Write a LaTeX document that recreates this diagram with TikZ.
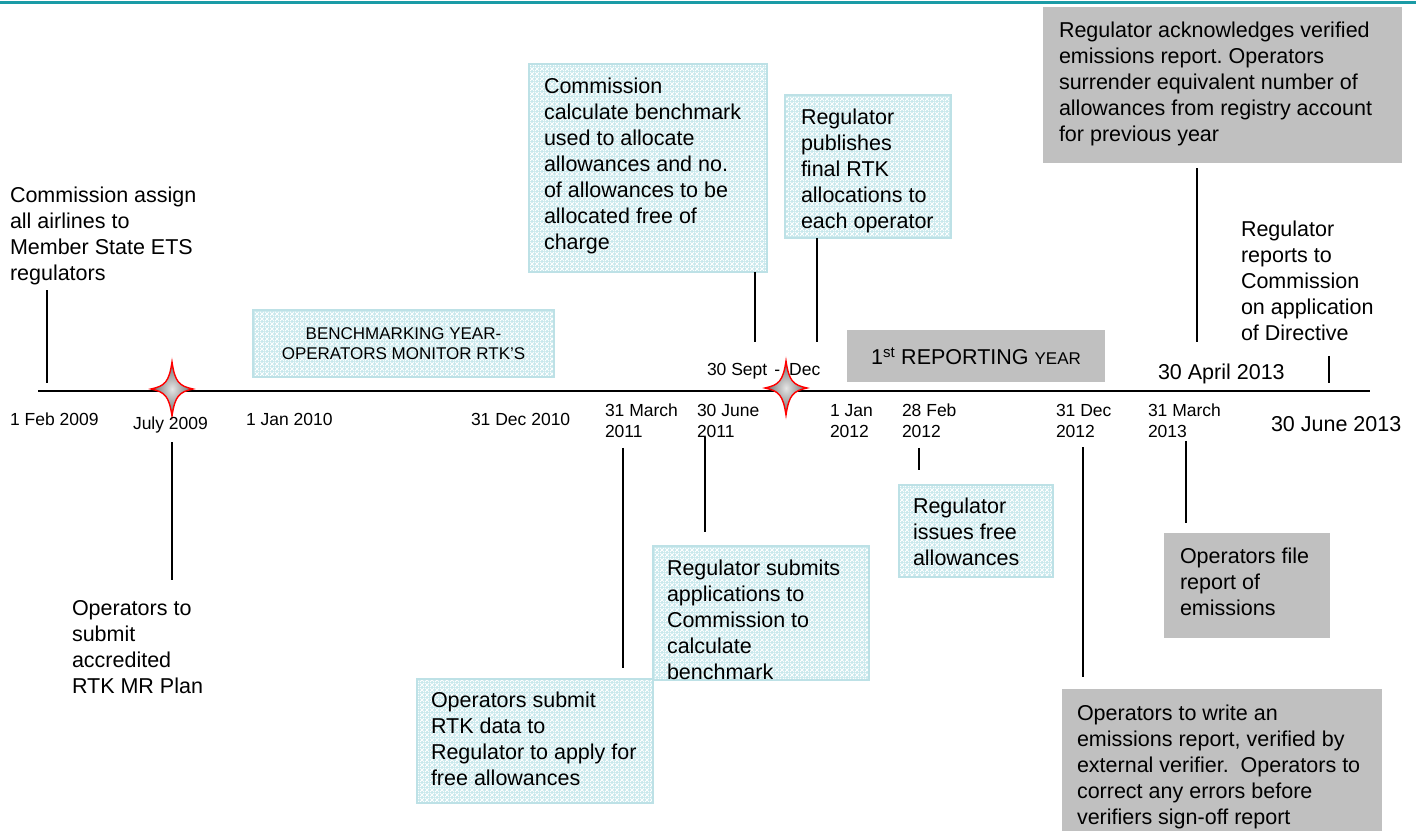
\documentclass[tikz,border=0pt]{standalone}
\usepackage{fontspec}
\setmainfont{Liberation Sans}
\usetikzlibrary{patterns.meta,calc}
\definecolor{tealtop}{HTML}{1A9BA6}
\definecolor{hfill}{HTML}{C8E8EC}
\definecolor{hbord}{HTML}{BDE1E6}
\definecolor{gboxc}{HTML}{C0C0C0}
\newcommand\fL{\fontsize{21.5}{26}\selectfont}
\newcommand\fS{\fontsize{17.5}{21}\selectfont}
\newcommand\fB{\fontsize{17}{20}\selectfont}
\frenchspacing
\tikzdeclarepattern{
  name=diamondgrid,
  type=uncolored,
  bounding box={(0pt,0pt) and (5pt,5pt)},
  tile size={(5pt,5pt)},
  code={
    \draw[line width=0.9pt] (0pt,0pt) -- (5pt,5pt) (0pt,5pt) -- (5pt,0pt);
  }
}
\tikzset{
  sparkle/.pic={
    \draw[red, line width=1.4pt, shading=radial, inner color=black!10, outer color=black!60]
      (0,-27) .. controls (3,-7) and (7,-3) .. (21,0)
      .. controls (7,3) and (3,7) .. (0,27)
      .. controls (-3,7) and (-7,3) .. (-21,0)
      .. controls (-7,-3) and (-3,-7) .. (0,-27) -- cycle;
  }
}
\begin{document}
\begin{tikzpicture}[x=1pt,y=-1pt,
  hbox/.style={fill=hfill, anchor=north west, inner sep=0pt, outer sep=0pt,
    postaction={pattern=diamondgrid, pattern color=white},
    postaction={draw=hbord, line width=1.5pt}},
  gbox/.style={fill=gboxc, anchor=north west, inner sep=0pt, outer sep=0pt},
  txt/.style={anchor=north west, inner sep=0pt, outer sep=0pt, align=left, font=\fL},
  dte/.style={anchor=north west, inner sep=0pt, outer sep=0pt, align=left, font=\fS},
  conn/.style={draw=black, line width=1.3pt},
]
\useasboundingbox (0,0) rectangle (1416,831);
\fill[white] (0,0) rectangle (1416,831);
\draw[tealtop, line width=3pt] (0,2) -- (1416,2);

% boxes
\node[hbox, minimum width=238pt, minimum height=208pt] (cbox) at (529,64) {};
\node[hbox, minimum width=166pt, minimum height=143pt] (pbox) at (785,95) {};
\node[hbox, minimum width=301pt, minimum height=67pt] (bbox) at (253,310) {};
\node[gbox, minimum width=258pt, minimum height=52pt] (rbox) at (847,330) {};
\node[gbox, minimum width=359pt, minimum height=156pt] (abox) at (1043,7) {};
\node[gbox, minimum width=166pt, minimum height=105pt] (obox) at (1164,533) {};
\node[gbox, minimum width=320pt, minimum height=142pt] (wbox) at (1062,689) {};
\node[hbox, minimum width=154pt, minimum height=92pt] (ibox) at (899,485) {};
\node[hbox, minimum width=216pt, minimum height=134pt] (sbox) at (653,546) {};
\node[hbox, minimum width=236pt, minimum height=124pt] (dbox) at (417,679) {};

% axis
\coordinate (axL) at (38,391);
\coordinate (axR) at (1370,391);
\draw[line width=2pt] (axL) -- (axR);
\pic at (172,389) {sparkle};
\pic at (786,388) {sparkle};

% texts
\node[txt] (cassign) at (10,187) {Commission assign\\all airlines to\\Member State ETS\\regulators};
\node[txt] (ctext) at (544,78) {Commission\\calculate benchmark\\used to allocate\\allowances and no.\\of allowances to be\\allocated free of\\charge};
\node[txt] (ptext) at (801,109) {Regulator\\publishes\\final RTK\\allocations to\\each operator};
\node[txt] (atext) at (1059,22) {Regulator acknowledges verified\\emissions report. Operators\\surrender equivalent number of\\allowances from registry account\\for previous year};
\node[txt] (regrep) at (1241,221) {Regulator\\reports to\\Commission\\on application\\of Directive};
\node[txt] (accr) at (72,600) {Operators to\\submit\\accredited\\RTK MR Plan};
\node[txt] (dtext) at (431,692) {Operators submit\\RTK data to\\Regulator to apply for\\free allowances};
\begin{scope}
\clip (sbox.north west) rectangle (sbox.south east);
\node[txt] (stext) at (667,560) {Regulator submits\\applications to\\Commission to\\calculate\\benchmark};
\end{scope}
\node[txt] (itext) at (913,498) {Regulator\\issues free\\allowances};
\node[txt] (otext) at (1180,548) {Operators file\\report of\\emissions};
\node[txt] (wtext) at (1077,705) {Operators to write an\\emissions report, verified by\\external verifier.\ \ Operators to\\correct any errors before\\verifiers sign-off report};
\node[font=\fB, align=center, inner sep=0pt] (btext) at (bbox.center) {BENCHMARKING YEAR-\\OPERATORS MONITOR RTK’S};
\node[font=\fL, inner sep=0pt] (rtext) at (rbox.center) {1\textsuperscript{st} REPORTING {\fontsize{17}{20}\selectfont YEAR}};

% dates
\node[txt] (apr13) at (1158,364) {30 April 2013};
\node[txt] (jun13) at (1271,416) {30 June 2013};
\node[dte] (sept) at (707,363) {30 Sept\hspace{7pt}-\hspace{9pt}Dec};
\node[dte] (feb09) at (10,413) {1 Feb 2009};
\node[dte] (july) at (133,417) {July 2009};
\node[dte] (jan10) at (246,413) {1 Jan 2010};
\node[dte] (dec10) at (471,413) {31 Dec 2010};
\node[dte] (mar11) at (605,404) {31 March\\2011};
\node[dte] (jun11) at (697,404) {30 June\\2011};
\node[dte] (jan12) at (830,404) {1 Jan\\2012};
\node[dte] (feb12) at (902,404) {28 Feb\\2012};
\node[dte] (dec12) at (1056,404) {31 Dec\\2012};
\node[dte] (mar13) at (1148,404) {31 March\\2013};

% connectors
\draw[conn] (cassign.south -| 47,0) ++(0,5) -- ++(0,93);
\draw[conn] (july.south -| 172,0) ++(0,9) -- ++(0,138);
\draw[conn] (mar11.south -| 623,0) ++(0,10) -- ++(0,220);
\draw[conn] (jun11.south -| 705,0) ++(0,0) -- ++(0,95);
\draw[conn] (cbox.south -| 755,0) -- ++(0,70);
\draw[conn] (pbox.south -| 817,0) -- ++(0,104);
\draw[conn] (feb12.south -| 919,0) ++(0,10) -- ++(0,22);
\draw[conn] (dec12.south -| 1083,0) ++(0,10) -- ++(0,230);
\draw[conn] (mar13.south -| 1186,0) ++(0,3) -- ++(0,82);
\draw[conn] (abox.south -| 1197,0) ++(0,5) -- ++(0,174);
\draw[conn] (regrep.south -| 1329,0) ++(0,15) -- ++(0,27);
\end{tikzpicture}
\end{document}
